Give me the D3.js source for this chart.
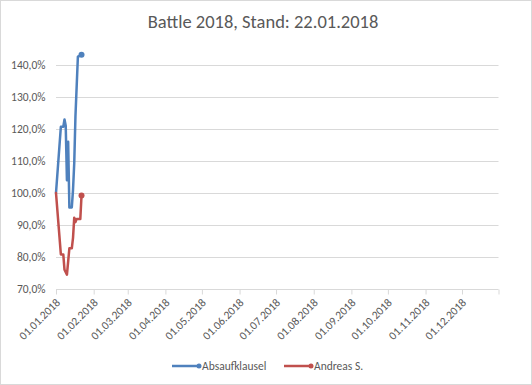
<!DOCTYPE html>
<html><head><meta charset="utf-8">
<script src="https://cdn.jsdelivr.net/npm/d3@7"></script>
<style>
html,body{margin:0;padding:0;background:#fff;}
text{font-family:Carlito, Lato, sans-serif;}
</style></head>
<body>
<svg id="c" width="532" height="385"></svg>
<script>
const title = "Battle 2018, Stand: 22.01.2018";
const seriesNames = ["Absaufklausel", "Andreas S."];
const seriesColors = ["#4F81BD", "#C0504D"];
const blueDates = ["2018-01-01","2018-01-05","2018-01-07","2018-01-08","2018-01-09","2018-01-10","2018-01-11","2018-01-12","2018-01-14","2018-01-15","2018-01-16","2018-01-17","2018-01-19","2018-01-20","2018-01-22"];
const blueValues = [1.000,1.207,1.207,1.230,1.210,1.040,1.160,0.955,0.955,1.010,1.093,1.240,1.426,1.428,1.432];
const redDates = ["2018-01-01","2018-01-05","2018-01-07","2018-01-08","2018-01-10","2018-01-12","2018-01-14","2018-01-15","2018-01-16","2018-01-17","2018-01-18","2018-01-21","2018-01-22"];
const redValues = [1.000,0.808,0.808,0.760,0.745,0.827,0.827,0.860,0.923,0.909,0.919,0.919,0.992];
const yTicks = [0.7,0.8,0.9,1.0,1.1,1.2,1.3,1.4];
const xTickDates = ["2018-01-01","2018-02-01","2018-03-01","2018-04-01","2018-05-01","2018-06-01","2018-07-01","2018-08-01","2018-09-01","2018-10-01","2018-11-01","2018-12-01"];
const xDomain = ["2018-01-01","2018-12-31"];

const parse = d3.utcParse("%Y-%m-%d");
const fmtDate = d3.utcFormat("%d.%m.%Y");
const fmtPct = v => (v*100).toFixed(1).replace(".", ",") + "%";

const svg = d3.select("#c");
svg.append("rect").attr("x",0.5).attr("y",0.5).attr("width",531).attr("height",384)
  .attr("fill","#fff").attr("stroke","#D9D9D9");

const x = d3.scaleUtc().domain(xDomain.map(parse)).range([56, 498.5]);
const y = d3.scaleLinear().domain([0.7, 1.4]).range([289, 65]);

svg.append("text").attr("x",263).attr("y",28).attr("text-anchor","middle")
  .attr("font-size",18.5).attr("fill","#595959").text(title);

// gridlines
svg.append("g").selectAll("line").data(yTicks.filter(v=>v>0.7)).join("line")
  .attr("x1",56).attr("x2",498.5).attr("y1",d=>Math.round(y(d))+0.5).attr("y2",d=>Math.round(y(d))+0.5)
  .attr("stroke","#D9D9D9").attr("stroke-width",1);

// y axis labels
const yAxis = d3.axisLeft(y).tickValues(yTicks).tickFormat(fmtPct).tickSize(0).tickPadding(0);
const gy = svg.append("g").attr("transform","translate(45.5,0)").call(yAxis);
gy.select(".domain").remove();
gy.selectAll("text").attr("font-size",11.5).attr("fill","#595959").attr("font-family","Carlito, Lato, sans-serif");

// x axis
const xTicks = xTickDates.map(parse).concat([parse(xDomain[1])]);
const xAxis = d3.axisBottom(x).tickValues(xTicks).tickSize(5).tickFormat(d=> d.getTime()===parse(xDomain[1]).getTime() ? "" : fmtDate(d));
const gx = svg.append("g").attr("transform","translate(0,289.5)").call(xAxis);
gx.select(".domain").attr("stroke","#D9D9D9").attr("d","M56,0H498.5");
gx.selectAll(".tick line").attr("stroke","#D9D9D9");
gx.selectAll(".tick text").attr("font-size",11.5).attr("fill","#595959")
  .attr("font-family","Carlito, Lato, sans-serif")
  .attr("text-anchor","end").attr("transform","translate(1.5,11) rotate(-45)").attr("dy","0.35em").attr("y",0).attr("x",0);

// lines
const line = d3.line().x(d=>x(d[0])).y(d=>y(d[1]));
const series = [
  blueDates.map((d,i)=>[parse(d), blueValues[i]]),
  redDates.map((d,i)=>[parse(d), redValues[i]])
];
series.forEach((s,i)=>{
  svg.append("path").datum(s).attr("d",line).attr("fill","none")
    .attr("stroke",seriesColors[i]).attr("stroke-width",2.5).attr("stroke-linejoin","round").attr("stroke-linecap","round");
  const last = s[s.length-1];
  svg.append("circle").attr("cx",x(last[0])).attr("cy",y(last[1])).attr("r",3).attr("fill",seriesColors[i]);
});

// legend
const legendX = [172, 284];
seriesNames.forEach((n,i)=>{
  const g = svg.append("g").attr("transform",`translate(${legendX[i]},366)`);
  g.append("line").attr("x1",0).attr("x2",27).attr("y1",0).attr("y2",0).attr("stroke",seriesColors[i]).attr("stroke-width",2.5);
  g.append("circle").attr("cx",27).attr("cy",0).attr("r",2.5).attr("fill",seriesColors[i]);
  g.append("text").attr("x",30).attr("y",0).attr("dy","0.35em").attr("font-size",11.5).attr("fill","#595959").text(n);
});
</script>
</body></html>
